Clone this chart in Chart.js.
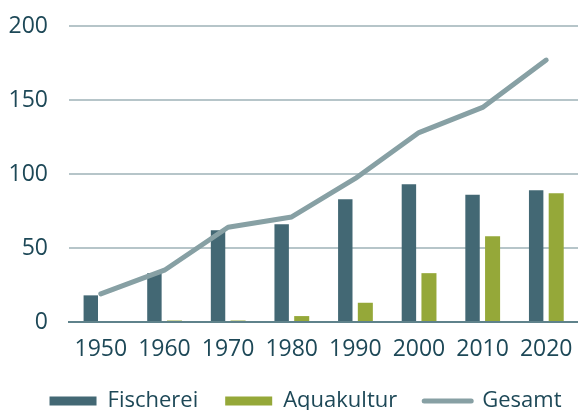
<!DOCTYPE html>
<html>
<head>
<meta charset="utf-8">
<script src="https://cdn.jsdelivr.net/npm/chart.js@4"></script>
<style>
  html, body { margin: 0; padding: 0; background: #ffffff; overflow: hidden; }
  #wrap { position: relative; width: 578px; height: 410px; overflow: hidden; }
  #box { position: absolute; left: 0; top: 0; width: 578px; height: 422px; }
</style>
</head>
<body>
<div id="wrap"><div id="box"><canvas id="c"></canvas></div></div>
<script>
const categories = ['1950', '1960', '1970', '1980', '1990', '2000', '2010', '2020'];
const fischerei = [18, 33, 62, 66, 83, 93, 86, 89];
const aquakultur = [0, 1, 1, 4, 13, 33, 58, 87];
const gesamt = [19, 35, 64, 71, 97, 128, 145, 177];
const yTicks = [0, 50, 100, 150, 200];
const seriesNames = ['Fischerei', 'Aquakultur', 'Gesamt'];

const C_FISCH = '#436874';
const C_AQUA = '#95a839';
const C_GES = '#87a0a4';
const C_TEXT = '#1d4857';
const C_GRID = '#b6c5c9';
const C_ZERO = '#5f828b';
const FONT = "'Open Sans', sans-serif";

Chart.defaults.font.family = FONT;
Chart.defaults.color = C_TEXT;

const legendShift = {
  id: 'legendShift',
  afterLayout(chart) {
    if (chart.legend) { chart.legend.left += 12; chart.legend.right += 12; }
  }
};

new Chart(document.getElementById('c'), {
  plugins: [legendShift],
  data: {
    labels: categories,
    datasets: [
      { type: 'bar', label: seriesNames[0], data: fischerei, backgroundColor: C_FISCH, borderWidth: 0, order: 2,
        categoryPercentage: 0.63, barPercentage: 0.72 },
      { type: 'bar', label: seriesNames[1], data: aquakultur, backgroundColor: C_AQUA, borderWidth: 0, order: 3,
        categoryPercentage: 0.63, barPercentage: 0.75 },
      { type: 'line', label: seriesNames[2], data: gesamt, borderColor: C_GES, backgroundColor: C_GES,
        borderWidth: 5, borderCapStyle: 'round', borderJoinStyle: 'round', pointRadius: 0, tension: 0, order: 1 }
    ]
  },
  options: {
    responsive: true,
    maintainAspectRatio: false,
    animation: false,
    layout: { padding: { top: 26, left: 9, right: 0, bottom: 0 } },
    plugins: {
      tooltip: { enabled: false },
      legend: {
        position: 'bottom',
        labels: {
          usePointStyle: true,
          pointStyleWidth: 47,
          boxHeight: 9,
          padding: 27,
          color: C_TEXT,
          font: { size: 22, family: FONT },
          sort: (a, b) => a.datasetIndex - b.datasetIndex,
          generateLabels(chart) {
            const items = Chart.defaults.plugins.legend.labels.generateLabels(chart);
            items.forEach(it => {
              const ds = chart.data.datasets[it.datasetIndex];
              if (ds.type === 'line') {
                it.pointStyle = 'line';
                it.lineWidth = 5;
                it.strokeStyle = C_GES;
                it.fillStyle = C_GES;
                it.lineCap = 'round';
              } else {
                it.pointStyle = 'rect';
                it.lineWidth = 0;
                it.fillStyle = ds.backgroundColor;
                it.strokeStyle = ds.backgroundColor;
              }
            });
            return items;
          }
        }
      }
    },
    scales: {
      x: {
        grid: { display: false, drawTicks: false },
        border: { display: true, color: C_ZERO, width: 2 },
        ticks: { color: C_TEXT, font: { size: 23 }, padding: 14 },
        afterFit(axis) { axis.height = 41; axis.paddingLeft = 0; axis.paddingRight = 0; }
      },
      y: {
        min: 0, max: 200,
        afterBuildTicks(axis) { axis.ticks = yTicks.map(v => ({ value: v })); },
        grid: { color: ctx => (ctx.tick && ctx.tick.value === 0) ? C_ZERO : C_GRID, lineWidth: 2, drawTicks: false },
        border: { display: false },
        ticks: { color: C_TEXT, font: { size: 23 }, padding: 21 },
        afterFit(axis) { axis.width = 60; axis.paddingTop = 0; axis.paddingBottom = 0; }
      }
    }
  }
});
</script>
</body>
</html>
